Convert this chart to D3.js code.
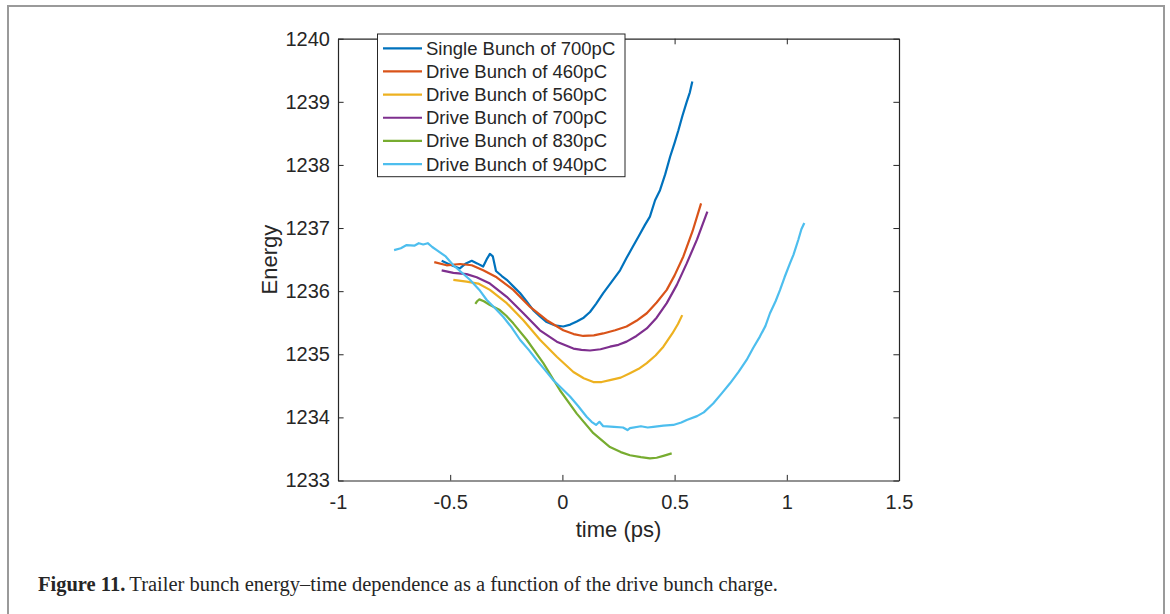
<!DOCTYPE html>
<html>
<head>
<meta charset="utf-8">
<script src="https://cdn.jsdelivr.net/npm/d3@7"></script>
<style>
  html, body { margin: 0; padding: 0; background: #fff; }
  svg { display: block; }
  text { font-family: "Liberation Sans", Arial, sans-serif; fill: #262626; }
</style>
</head>
<body>
<svg id="chart" width="1170" height="614"></svg>
<script>
// energy vs time (ps)
const seriesNames = ['Single Bunch of 700pC', 'Drive Bunch of 460pC', 'Drive Bunch of 560pC',
                     'Drive Bunch of 700pC', 'Drive Bunch of 830pC', 'Drive Bunch of 940pC'];
const seriesColors = ['#0072BD', '#D95319', '#EDB120', '#7E2F8E', '#77AC30', '#4DBEEE'];

const single700 = [[-0.538,1236.48],[-0.50,1236.42],[-0.457,1236.36],[-0.43,1236.44],[-0.404,1236.48],
  [-0.38,1236.44],[-0.353,1236.39],[-0.335,1236.52],[-0.323,1236.59],[-0.31,1236.55],[-0.296,1236.32],
  [-0.27,1236.24],[-0.248,1236.18],[-0.22,1236.08],[-0.189,1235.97],[-0.16,1235.84],[-0.13,1235.70],
  [-0.10,1235.60],[-0.07,1235.51],[-0.035,1235.46],[0.004,1235.44],[0.035,1235.47],[0.064,1235.52],
  [0.095,1235.58],[0.123,1235.67],[0.15,1235.80],[0.182,1235.97],[0.22,1236.15],[0.257,1236.33],
  [0.285,1236.52],[0.313,1236.70],[0.34,1236.87],[0.368,1237.05],[0.39,1237.18],[0.413,1237.44],
  [0.435,1237.60],[0.458,1237.85],[0.48,1238.13],[0.50,1238.35],[0.517,1238.55],[0.535,1238.78],
  [0.554,1239.00],[0.568,1239.15],[0.579,1239.32]];
const drive460 = [[-0.571,1236.46],[-0.516,1236.41],[-0.456,1236.43],[-0.404,1236.41],[-0.353,1236.33],
  [-0.293,1236.22],[-0.219,1236.02],[-0.144,1235.75],[-0.07,1235.54],[0.004,1235.38],[0.05,1235.32],
  [0.093,1235.29],[0.14,1235.30],[0.182,1235.33],[0.235,1235.38],[0.286,1235.44],[0.33,1235.53],
  [0.376,1235.65],[0.42,1235.82],[0.465,1236.02],[0.50,1236.25],[0.539,1236.55],[0.58,1236.95],
  [0.618,1237.39]];
const drive560 = [[-0.486,1236.18],[-0.427,1236.15],[-0.375,1236.12],[-0.323,1236.02],[-0.248,1235.81],
  [-0.174,1235.54],[-0.10,1235.23],[-0.025,1234.96],[0.049,1234.72],[0.095,1234.62],[0.138,1234.56],
  [0.175,1234.56],[0.212,1234.59],[0.26,1234.63],[0.301,1234.70],[0.34,1234.77],[0.376,1234.86],
  [0.415,1234.98],[0.45,1235.12],[0.49,1235.33],[0.515,1235.48],[0.534,1235.62]];
const drive700 = [[-0.538,1236.33],[-0.486,1236.29],[-0.427,1236.27],[-0.382,1236.22],[-0.323,1236.12],
  [-0.248,1235.91],[-0.174,1235.65],[-0.10,1235.38],[-0.025,1235.20],[0.049,1235.09],[0.085,1235.07],
  [0.123,1235.06],[0.17,1235.08],[0.212,1235.12],[0.25,1235.15],[0.286,1235.20],[0.33,1235.29],
  [0.376,1235.41],[0.42,1235.58],[0.465,1235.81],[0.51,1236.10],[0.554,1236.44],[0.60,1236.82],
  [0.646,1237.26]];
const drive830 = [[-0.388,1235.80],[-0.38,1235.84],[-0.37,1235.87],[-0.35,1235.84],[-0.323,1235.78],
  [-0.279,1235.70],[-0.25,1235.61],[-0.219,1235.49],[-0.159,1235.23],[-0.085,1234.86],[-0.011,1234.43],
  [0.064,1234.06],[0.138,1233.75],[0.212,1233.53],[0.26,1233.45],[0.301,1233.40],[0.35,1233.37],
  [0.39,1233.35],[0.42,1233.36],[0.45,1233.39],[0.487,1233.43]];
const drive940 = [[-0.75,1236.65],[-0.72,1236.68],[-0.694,1236.73],[-0.66,1236.72],[-0.64,1236.76],
  [-0.62,1236.74],[-0.60,1236.76],[-0.58,1236.70],[-0.56,1236.65],[-0.52,1236.55],[-0.486,1236.41],
  [-0.45,1236.30],[-0.412,1236.18],[-0.37,1236.02],[-0.337,1235.86],[-0.30,1235.73],[-0.263,1235.59],
  [-0.225,1235.42],[-0.189,1235.23],[-0.15,1235.07],[-0.115,1234.91],[-0.08,1234.76],[-0.041,1234.59],
  [0.0,1234.45],[0.034,1234.33],[0.07,1234.18],[0.108,1234.01],[0.13,1233.93],[0.15,1233.88],
  [0.165,1233.93],[0.182,1233.86],[0.23,1233.85],[0.27,1233.84],[0.29,1233.80],[0.301,1233.83],
  [0.35,1233.86],[0.38,1233.84],[0.405,1233.85],[0.45,1233.87],[0.494,1233.88],[0.53,1233.92],
  [0.554,1233.96],[0.60,1234.02],[0.63,1234.08],[0.672,1234.22],[0.71,1234.38],[0.747,1234.54],
  [0.785,1234.72],[0.821,1234.91],[0.85,1235.10],[0.88,1235.28],[0.905,1235.45],[0.925,1235.65],
  [0.95,1235.84],[0.97,1236.02],[0.99,1236.22],[1.014,1236.44],[1.03,1236.58],[1.051,1236.81],
  [1.065,1236.98],[1.078,1237.08]];
const allSeries = [single700, drive460, drive560, drive700, drive830, drive940];

const xTicks = [-1, -0.5, 0, 0.5, 1, 1.5];
const yTicks = [1233, 1234, 1235, 1236, 1237, 1238, 1239, 1240];
const caption = 'Trailer bunch energy\u2013time dependence as a function of the drive bunch charge.';

const svg = d3.select('#chart');
const axColor = '#262626';
const sans = '"Liberation Sans", Arial, sans-serif';
const L = 338, R = 899, T = 38.7, B = 480.5;
const x = d3.scaleLinear().domain([-1, 1.5]).range([L, R]);
const y = d3.scaleLinear().domain([1233, 1240]).range([B, T]);

// page frame
svg.append('rect').attr('x', 8).attr('y', 6).attr('width', 1156).attr('height', 700)
  .attr('fill', 'none').attr('stroke', '#9a9a9a').attr('stroke-width', 2);

// curves
const line = d3.line().x(d => x(d[0])).y(d => y(d[1]));
svg.append('g').selectAll('path').data(allSeries).enter().append('path')
  .attr('d', line).attr('fill', 'none')
  .attr('stroke', (d, i) => seriesColors[i]).attr('stroke-width', 2.2)
  .attr('stroke-linejoin', 'round');

// axes box with inward ticks on all sides
const tk = 5.6;
const plain = d => String(d);
svg.append('g').attr('transform', `translate(0,${B})`)
  .call(d3.axisBottom(x).tickValues(xTicks).tickSizeInner(-tk).tickSizeOuter(0).tickFormat(plain).tickPadding(14))
  .call(g => g.selectAll('text').attr('font-size', 20).attr('fill', axColor).attr('font-family', sans));
svg.append('g').attr('transform', `translate(0,${T})`)
  .call(d3.axisTop(x).tickValues(xTicks).tickSizeInner(-tk).tickSizeOuter(0).tickFormat(''));
svg.append('g').attr('transform', `translate(${L},0)`)
  .call(d3.axisLeft(y).tickValues(yTicks).tickSizeInner(-tk).tickSizeOuter(0).tickFormat(plain).tickPadding(8))
  .call(g => g.selectAll('text').attr('font-size', 20).attr('fill', axColor).attr('font-family', sans));
svg.append('g').attr('transform', `translate(${R},0)`)
  .call(d3.axisRight(y).tickValues(yTicks).tickSizeInner(-tk).tickSizeOuter(0).tickFormat(''));
svg.selectAll('.domain').attr('stroke', axColor).attr('stroke-width', 1.2);
svg.selectAll('.tick line').attr('stroke', axColor).attr('stroke-width', 1);

// axis labels
svg.append('text').attr('x', (L + R) / 2).attr('y', 537).attr('text-anchor', 'middle')
  .attr('font-size', 22).text('time (ps)');
svg.append('text').attr('transform', `translate(277,${(T + B) / 2}) rotate(-90)`)
  .attr('text-anchor', 'middle').attr('font-size', 22).text('Energy');

// legend
const lg = svg.append('g');
lg.append('rect').attr('x', 377.5).attr('y', 34).attr('width', 247.5).attr('height', 142.7)
  .attr('fill', '#fff').attr('stroke', axColor).attr('stroke-width', 1);
seriesNames.forEach((name, i) => {
  const cy = 48.3 + i * 23.15;
  lg.append('line').attr('x1', 383).attr('x2', 422).attr('y1', cy).attr('y2', cy)
    .attr('stroke', seriesColors[i]).attr('stroke-width', 2.2);
  lg.append('text').attr('x', 426).attr('y', cy).attr('dy', '0.35em')
    .attr('font-size', 18.5).text(name);
});

// caption
const cap = svg.append('text').attr('x', 38).attr('y', 591)
  .style('font-family', '"Liberation Serif", "DejaVu Serif", serif').attr('font-size', 20.5).attr('fill', '#222');
cap.append('tspan').attr('font-weight', 'bold').text('Figure 11.');
cap.append('tspan').attr('dx', 4).text(caption);
</script>
</body>
</html>
